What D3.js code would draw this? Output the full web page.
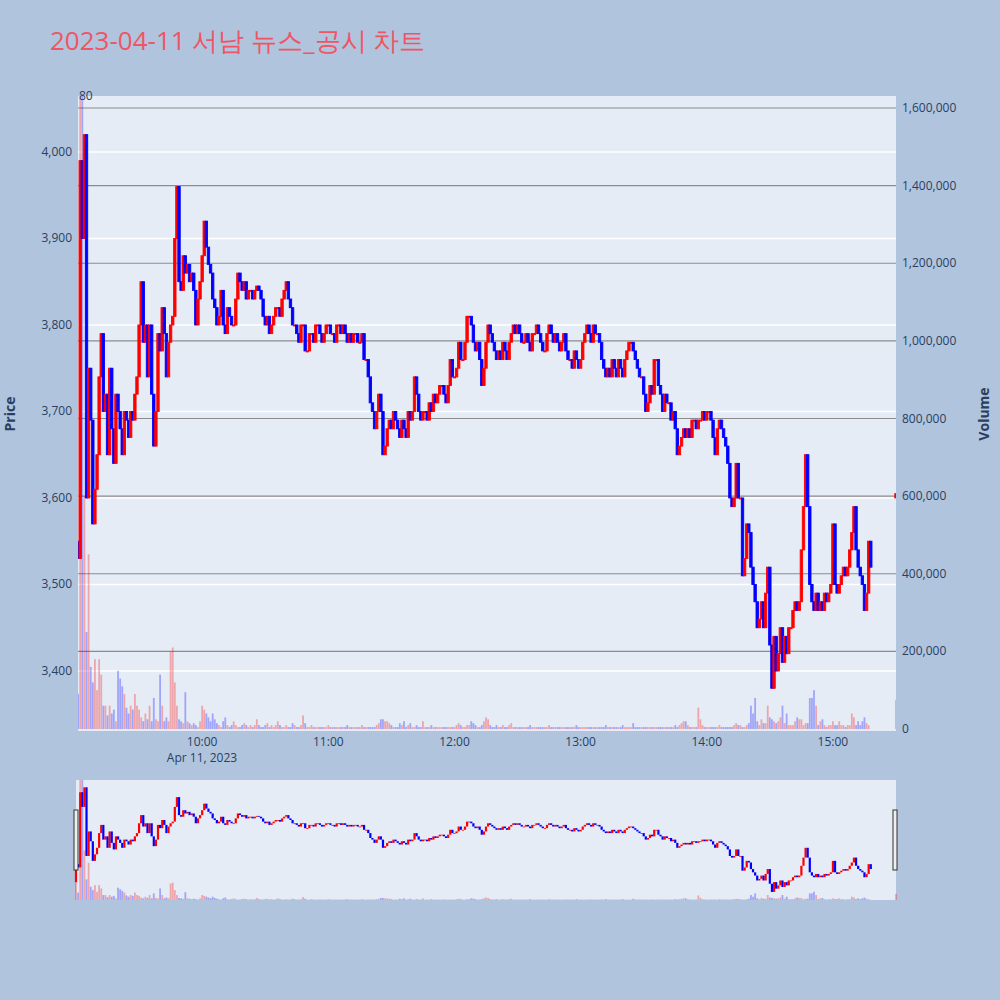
<!DOCTYPE html>
<html><head><meta charset="utf-8">
<script src="https://cdn.jsdelivr.net/npm/d3@7"></script>
<style>body{margin:0;background:#b0c4de;font-family:"Open Sans",Roboto,sans-serif}</style>
</head><body>
<svg id="chart" width="1000" height="1000"></svg>
<script>
// closes, one per minute from 09:00
const closes = [
3550,3530,3990,3900,4020,3600,3750,3690,3570,3610,
3650,3740,3790,3700,3720,3650,3750,3680,3640,3720,
3700,3680,3650,3700,3690,3670,3700,3690,3720,3740,
3800,3850,3780,3800,3740,3800,3720,3660,3700,3790,
3770,3820,3790,3740,3780,3800,3810,3900,3960,3850,
3840,3880,3860,3870,3850,3860,3840,3800,3830,3850,
3880,3920,3890,3870,3860,3830,3820,3800,3810,3840,
3800,3790,3820,3810,3800,3800,3830,3860,3850,3840,
3850,3830,3840,3840,3830,3840,3845,3840,3830,3810,
3800,3810,3790,3800,3810,3820,3820,3810,3830,3840,
3850,3830,3820,3800,3800,3790,3780,3800,3800,3770,
3770,3790,3790,3780,3800,3800,3790,3780,3790,3800,
3800,3790,3790,3780,3800,3800,3790,3800,3790,3780,
3790,3780,3790,3790,3780,3780,3790,3760,3760,3740,
3710,3700,3680,3700,3720,3700,3650,3660,3680,3690,
3680,3700,3690,3680,3670,3690,3680,3670,3700,3690,
3700,3740,3720,3700,3690,3700,3700,3690,3710,3700,
3720,3710,3720,3730,3730,3720,3710,3730,3760,3740,
3740,3750,3780,3760,3760,3780,3810,3810,3800,3780,
3770,3780,3760,3730,3750,3780,3800,3790,3780,3770,
3760,3770,3760,3780,3770,3760,3780,3790,3800,3790,
3800,3790,3780,3780,3790,3780,3770,3790,3790,3800,
3790,3780,3770,3770,3790,3800,3790,3780,3790,3780,
3770,3780,3790,3770,3760,3760,3750,3770,3760,3750,
3760,3780,3790,3800,3790,3780,3800,3790,3790,3780,
3760,3750,3740,3750,3740,3760,3750,3740,3760,3750,
3740,3760,3770,3780,3780,3770,3760,3750,3740,3740,
3720,3700,3710,3730,3720,3760,3760,3730,3720,3700,
3720,3710,3710,3690,3700,3680,3650,3660,3670,3680,
3670,3680,3670,3690,3690,3680,3690,3690,3700,3690,
3700,3700,3690,3670,3650,3680,3690,3680,3670,3660,
3640,3600,3590,3600,3640,3600,3600,3510,3530,3570,
3560,3520,3500,3480,3450,3460,3480,3450,3490,3520,
3430,3380,3440,3400,3420,3450,3410,3440,3420,3450,
3450,3470,3480,3470,3480,3540,3590,3650,3590,3500,
3480,3470,3490,3470,3480,3470,3490,3480,3490,3500,
3570,3500,3490,3500,3510,3520,3510,3520,3540,3560,
3590,3540,3520,3510,3500,3470,3490,3550,3520];
const firstOpen = 3440;
// volume per minute, thousands of shares
const volumes = [
450,90,1650,1650,600,250,450,160,120,180,
100,180,140,60,60,35,60,40,50,20,
150,130,110,90,55,40,60,50,90,60,
50,30,20,40,25,60,20,80,25,20,
140,60,20,30,20,200,210,120,60,25,
20,15,95,20,15,10,15,10,5,20,
60,50,40,30,20,40,25,15,10,5,
20,30,10,5,10,20,10,5,5,10,
15,10,5,10,5,10,25,10,5,5,
10,15,5,10,5,10,20,10,5,5,
10,5,5,15,10,5,5,10,35,15,
5,5,10,5,5,5,5,5,5,5,
10,5,5,5,5,5,5,5,5,10,
5,5,5,5,5,5,10,5,5,5,
5,5,5,10,15,25,25,20,20,15,
10,5,5,5,15,10,20,5,10,15,
5,5,10,5,5,20,5,5,5,10,
5,5,5,5,5,5,5,5,5,5,
5,10,15,10,5,5,10,10,20,15,
10,5,5,10,20,30,25,10,5,5,
10,5,5,10,5,5,10,15,5,5,
5,5,5,5,5,5,10,5,5,5,
5,5,5,5,5,10,5,5,5,5,
5,5,5,5,5,5,5,5,10,5,
5,5,5,5,5,5,5,5,5,5,
5,5,10,5,5,5,5,5,5,5,
10,5,5,5,5,15,5,5,5,5,
5,5,5,5,5,5,5,5,5,5,
5,5,5,5,5,10,5,10,15,20,
20,10,5,5,5,5,55,25,10,5,
5,5,5,5,5,5,10,5,5,5,
5,5,5,10,15,10,10,5,5,10,
15,60,40,80,20,10,25,15,15,60,
30,25,20,15,20,30,60,15,40,10,
10,10,20,30,25,25,10,15,15,80,
80,100,60,10,20,25,10,5,10,10,
20,10,10,20,10,10,5,10,10,40,
30,10,20,10,20,30,15,10];
// closing call at 15:30
const closingMinute = 390, closingOpen = 3600, closingClose = 3605, closingVolume = 75;
const priceTicks = [3400,3500,3600,3700,3800,3900,4000];
const volumeTicks = [0,200000,400000,600000,800000,1000000,1200000,1400000,1600000];
const timeTicks = ["10:00","11:00","12:00","13:00","14:00","15:00"];

const t0 = new Date(2023,3,11,9,0);
const minute = m => new Date(t0.getTime() + m*60000);
const candles = closes.map((c,i) => ({t: minute(i), o: i ? closes[i-1] : firstOpen, c, v: volumes[i]*1000}));
candles.push({t: minute(closingMinute), o: closingOpen, c: closingClose, v: closingVolume*1000});

const svg = d3.select("#chart");
const L = 78, R = 896, T = 96, B = 731;
const x = d3.scaleTime().domain([t0, minute(390)]).range([76, 896]);
const y = d3.scaleLinear().domain([3330.6, 4064.7]).range([B, T]);
const yv = d3.scaleLinear().domain([0, 1600000]).range([729, 108]);
const UP = "#ff0000", DOWN = "#0000ff";
const col = d => d.c >= d.o ? UP : DOWN;

svg.append("text").attr("x", 50).attr("y", 50).attr("font-size", 26).attr("fill", "#ef5565")
  .text("2023-04-11 서남 뉴스_공시 차트");

svg.append("rect").attr("x", L).attr("y", T).attr("width", R-L).attr("height", B-T).attr("fill", "#e5ecf6");
svg.append("clipPath").attr("id","c").append("rect").attr("x", L).attr("y", T).attr("width", R-L).attr("height", B-T);

svg.append("g").selectAll("line").data(priceTicks).join("line")
  .attr("x1", L).attr("x2", R).attr("y1", d => y(d)).attr("y2", d => y(d)).attr("stroke", "#fff").attr("stroke-width", 1.5);
svg.append("g").selectAll("line").data(volumeTicks.slice(1)).join("line")
  .attr("x1", L).attr("x2", R).attr("y1", d => yv(d)).attr("y2", d => yv(d)).attr("stroke", "#8c8c8c").attr("stroke-width", 1.2);

const plot = svg.append("g").attr("clip-path", "url(#c)");
plot.append("g").selectAll("rect").data(candles).join("rect")
  .attr("x", d => x(d.t) - 0.9).attr("width", 1.8)
  .attr("y", d => yv(d.v)).attr("height", d => 729 - yv(d.v))
  .attr("fill", col).attr("opacity", 0.3);
plot.append("g").selectAll("rect").data(candles).join("rect")
  .attr("x", d => x(d.t) - 1.2).attr("width", 2.4)
  .attr("y", d => y(Math.max(d.o, d.c))).attr("height", d => Math.max(1, Math.abs(y(d.o) - y(d.c))))
  .attr("fill", col).attr("stroke", col).attr("stroke-width", 0.9);

svg.append("text").attr("x", 79).attr("y", 100).attr("font-size", 12).attr("fill", "#2a3f5f").text("80");

const ax = svg.append("g").attr("font-size", 12).attr("fill", "#2a3f5f");
ax.selectAll(".p").data(priceTicks).join("text").attr("x", 72).attr("y", d => y(d) + 4)
  .attr("text-anchor", "end").text(d3.format(","));
ax.selectAll(".v").data(volumeTicks).join("text").attr("x", 902).attr("y", d => yv(d) + 4)
  .text(d3.format(","));
ax.selectAll(".t").data(timeTicks).join("text").attr("x", (d,i) => x(minute(60*(i+1)))).attr("y", 746)
  .attr("text-anchor", "middle").text(d => d);
ax.append("text").attr("x", 202).attr("y", 762).attr("text-anchor", "middle").text("Apr 11, 2023");
svg.append("text").attr("transform", "translate(15,414) rotate(-90)").attr("text-anchor", "middle")
  .attr("font-size", 14).attr("font-weight", "bold").attr("fill", "#2a3f5f").text("Price");
svg.append("text").attr("transform", "translate(989,414) rotate(-90)").attr("text-anchor", "middle")
  .attr("font-size", 14).attr("font-weight", "bold").attr("fill", "#2a3f5f").text("Volume");

// range slider
const sT = 780, sB = 900;
const sy = d3.scaleLinear().domain([3330.6, 4064.7]).range([sB, sT]);
const sv = d3.scaleLinear().domain([0, 1600000]).range([sB, sT - 12]);
svg.append("rect").attr("x", 76).attr("y", sT).attr("width", 820).attr("height", sB - sT).attr("fill", "#e5ecf6");
const sg = svg.append("g");
sg.append("g").selectAll("rect").data(candles).join("rect")
  .attr("x", d => x(d.t) - 0.9).attr("width", 1.8)
  .attr("y", d => Math.max(sT, sv(d.v))).attr("height", d => sB - Math.max(sT, sv(d.v)))
  .attr("fill", col).attr("opacity", 0.3);
sg.append("g").selectAll("rect").data(candles).join("rect")
  .attr("x", d => x(d.t) - 1.1).attr("width", 2.2)
  .attr("y", d => sy(Math.max(d.o, d.c))).attr("height", d => Math.max(0.8, Math.abs(sy(d.o) - sy(d.c))))
  .attr("fill", col);
[74, 893].forEach(hx => svg.append("rect").attr("x", hx).attr("y", 810).attr("width", 4).attr("height", 60)
  .attr("fill", "#eee").attr("stroke", "#333"));
</script>
</body></html>
